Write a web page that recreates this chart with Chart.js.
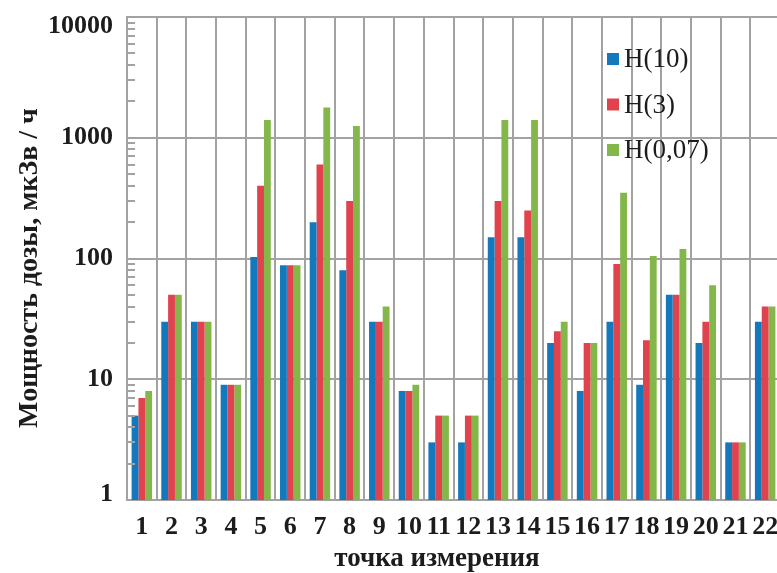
<!DOCTYPE html>
<html>
<head>
<meta charset="utf-8">
<script src="https://cdn.jsdelivr.net/npm/chart.js@4.4.1/dist/chart.umd.min.js"></script>
<style>
  html, body { margin: 0; padding: 0; background: #fff; overflow: hidden; }
  canvas { display: block; }
</style>
</head>
<body>
<canvas id="c" width="781" height="573"></canvas>
<script>
// Measurement points along the survey route
const points = ['1','2','3','4','5','6','7','8','9','10','11','12','13','14','15','16','17','18','19','20','21','22'];

// Dose-rate readings, µSv/h
const h10  = [5, 30, 30, 9, 103, 88, 200, 80, 30, 8, 3, 3, 150, 150, 20, 8, 30, 9, 50, 20, 3, 30];
const h3   = [7, 50, 30, 9, 400, 88, 600, 300, 30, 8, 5, 5, 300, 250, 25, 20, 90, 21, 50, 30, 3, 40];
const h007 = [8, 50, 30, 9, 1400, 88, 1780, 1250, 40, 9, 5, 5, 1400, 1400, 30, 20, 350, 105, 120, 60, 3, 40];

const seriesNames = ['H(10)', 'H(3)', 'H(0,07)'];
const yTicks = [1, 10, 100, 1000, 10000];
const yTitle = 'Мощность дозы, мкЗв / ч';
const xTitle = 'точка измерения';

const BLUE = '#1478bd';
const RED = '#e0434d';
const GREEN = '#84b74a';
const GRID = '#a2a2a2';
const INK = '#1c1c1c';
const SERIF = '"Liberation Serif", "Times New Roman", serif';

// Short minor ticks inside the plot along the left axis (2..9 of each decade)
const minorTicks = {
  id: 'minorTicks',
  afterDraw(chart) {
    const y = chart.scales.y;
    const ctx = chart.ctx;
    const x0 = chart.chartArea.left;
    ctx.save();
    ctx.strokeStyle = GRID;
    ctx.lineWidth = 2;
    for (let k = 0; k < yTicks.length - 1; k++) {
      for (let m = 2; m <= 9; m++) {
        const py = Math.round(y.getPixelForValue(m * yTicks[k]));
        ctx.beginPath();
        ctx.moveTo(x0, py);
        ctx.lineTo(x0 + 8, py);
        ctx.stroke();
      }
    }
    ctx.restore();
  }
};

// Axis titles
const axisTitles = {
  id: 'axisTitles',
  afterDraw(chart) {
    const ctx = chart.ctx;
    ctx.save();
    ctx.fillStyle = INK;
    ctx.font = 'bold 27px ' + SERIF;
    ctx.textAlign = 'center';
    ctx.textBaseline = 'alphabetic';
    ctx.fillText(xTitle, 437, 566);
    ctx.translate(37, 268);
    ctx.rotate(-Math.PI / 2);
    ctx.font = 'bold 28px ' + SERIF;
    ctx.fillText(yTitle, 0, 0);
    ctx.restore();
  }
};

// Legend with square swatches inside the plot, upper right
const squareLegend = {
  id: 'squareLegend',
  afterDatasetsDraw(chart) {
    const ctx = chart.ctx;
    ctx.save();
    ctx.font = '27px ' + SERIF;
    ctx.textAlign = 'left';
    ctx.textBaseline = 'alphabetic';
    chart.data.datasets.forEach((ds, i) => {
      const base = 67 + i * 45.5;
      ctx.fillStyle = ds.backgroundColor;
      ctx.fillRect(607, base - 14, 12, 12);
      ctx.fillStyle = INK;
      ctx.fillText(ds.label, 624, base);
    });
    ctx.restore();
  }
};

const yMin = yTicks[0];
const yMax = yTicks[yTicks.length - 1];

new Chart(document.getElementById('c'), {
  type: 'bar',
  data: {
    labels: points,
    datasets: [
      { label: seriesNames[0], data: h10,  backgroundColor: BLUE },
      { label: seriesNames[1], data: h3,   backgroundColor: RED },
      { label: seriesNames[2], data: h007, backgroundColor: GREEN }
    ]
  },
  options: {
    responsive: false,
    animation: false,
    devicePixelRatio: 1,
    layout: { padding: { top: 17, right: 1, bottom: 0, left: 0 } },
    datasets: { bar: { categoryPercentage: 0.69, barPercentage: 1.0, borderWidth: 0 } },
    plugins: {
      legend: { display: false },
      tooltip: { enabled: false }
    },
    scales: {
      x: {
        offset: true,
        grid: { display: true, offset: true, color: GRID, lineWidth: 2, drawTicks: false },
        border: { display: true, color: GRID, width: 2 },
        ticks: {
          color: INK,
          padding: 14,
          maxRotation: 0,
          autoSkip: false,
          font: { family: SERIF, size: 26, weight: 'bold', lineHeight: 1 }
        },
        afterFit(scale) { scale.height = 73; scale.paddingLeft = 0; scale.paddingRight = 0; }
      },
      y: {
        type: 'logarithmic',
        min: yMin,
        max: yMax,
        afterBuildTicks(scale) { scale.ticks = yTicks.map(v => ({ value: v })); },
        grid: { color: GRID, lineWidth: 2, drawTicks: false },
        border: { display: true, color: GRID, width: 2 },
        ticks: {
          color: INK,
          padding: 14,
          autoSkip: false,
          // end labels are nudged inward, off the frame lines
          callback: (v) => {
            if (v === yMax) return ['', String(v)];
            if (v === yMin) return [String(v), ''];
            return String(v);
          },
          font: (c) => {
            const v = c.tick ? c.tick.value : null;
            let lh = 1;
            if (v === yMax) lh = 0.7;
            if (v === yMin) lh = 0.45;
            return { family: SERIF, size: 26, weight: 'bold', lineHeight: lh };
          }
        },
        afterFit(scale) { scale.width = 127; scale.paddingTop = 0; scale.paddingBottom = 0; }
      }
    }
  },
  plugins: [minorTicks, squareLegend, axisTitles]
});
</script>
</body>
</html>
